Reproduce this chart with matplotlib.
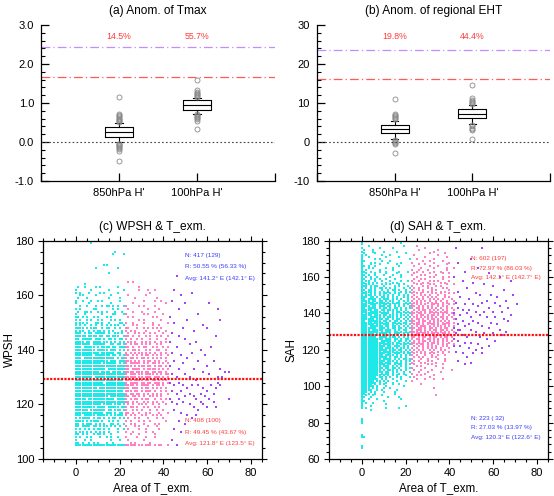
import matplotlib
matplotlib.use('Agg')
import matplotlib.pyplot as plt
from matplotlib.ticker import MultipleLocator, FormatStrFormatter

plt.rcParams['font.family'] = ['Liberation Sans', 'DejaVu Sans']

# ---------------- box plot data (top panels) ----------------
box_labels = ["850hPa H'", "100hPa H'"]

tmax_q1 = [0.12, 0.83]
tmax_med = [0.26, 0.94]
tmax_q3 = [0.39, 1.07]
tmax_lo = [-0.01, 0.73]
tmax_hi = [0.50, 1.14]
tmax_fliers = [
    [0.52, 0.54, 0.56, 0.58, 0.60, 0.63, 0.66, 0.69, 0.72, 1.15,
     -0.04, -0.06, -0.08, -0.10, -0.13, -0.16, -0.19, -0.22, -0.48],
    [1.16, 1.18, 1.20, 1.23, 1.26, 1.29, 1.33, 1.58,
     0.71, 0.69, 0.67, 0.64, 0.61, 0.58, 0.55, 0.33],
]
tmax_lines = [2.43, 1.67]      # purple, red thresholds
tmax_pct = ['14.5%', '55.7%']

eht_q1 = [2.2, 6.1]
eht_med = [3.4, 7.3]
eht_q3 = [4.4, 8.5]
eht_lo = [0.9, 4.6]
eht_hi = [5.5, 9.4]
eht_fliers = [
    [5.8, 6.1, 6.4, 6.7, 7.0, 7.3, 11.1,
     0.6, 0.3, 0.0, -0.3, -0.6, -2.8],
    [9.7, 10.0, 10.3, 10.6, 10.9, 11.3, 14.6,
     4.3, 4.0, 3.7, 3.4, 3.0, 0.7],
]
eht_lines = [23.5, 16.2]
eht_pct = ['19.8%', '44.4%']

# ---------------- scatter data (bottom panels) ----------------
# each row string: '#' = one point, char index = Area offset from the row start
WPSH_CYAN = {  # Area 0..22
    179: ".......#...............",
    176: "..................#....",
    175: ".................#....#",
    171: ".............##........",
    170: ".........#.........#...",
    168: "...............#.......",
    164: "....#..................",
    163: ".#..#....#.#.......#...",
    162: "#......#.......#......#",
    161: "#.#...#....#.#.....#...",
    160: "..##.....#......#......",
    159: ".#...#.........#....#..",
    158: "#..#...#..#.#.......#..",
    157: "#.....#.........#......",
    156: "..#..#...#..#.##.#.#..#",
    155: "#.#.....##.......#.#...",
    154: ".#..##.#..#.#.#...#..#.",
    153: "#...#.......#....##...#",
    152: "##.#.#..#.#...#.#......",
    151: "#.#..#.#..#.#...#.#.#..",
    150: "#.##.#...##.#..#....##.",
    149: "#.#.#..#.#..#.#.#.##..#",
    148: "####.#.###..#.##..#.#..",
    147: "#.##..#.#.##.#.#.#...#.",
    146: "###.#.##.#####.#..##.#.",
    145: "#####.####.##.##.###..#",
    144: "##.#####.###.#.##.#.##.",
    143: "####.##.####.##.#.#.#.#",
    142: "#######.######..##.##.#",
    141: "###.#####.#.####.##.###",
    140: "#########.#####.###.#.#",
    139: "###########.######.##..",
    138: "########.#######.##.#.#",
    137: "###.##############.#.##",
    136: "###############.###.###",
    135: "############.######.#.#",
    134: "#######################",
    133: "##############.########",
    132: "###########.####.####.#",
    131: "#######################",
    130: "########.##############",
    129: "######################.",
    128: "#############.#########",
    127: "#######################",
    126: "##########.############",
    125: "######################.",
    124: "#######################",
    123: "###############.#######",
    122: "#####.############.####",
    121: "#######################",
    120: "############.####.###.#",
    119: "#########.####.#####.##",
    118: "######.#######.##.###.#",
    117: "#############.###.#.##.",
    116: "###.#####.#####.#.####.",
    115: "#.#####.#.##.#.#.##.#.#",
    114: "####.#.####.#..#.#.#...",
    113: "##.#.###.#.#.#..##.#..#",
    112: "##.####.##.#.##.#.#.#..",
    111: "#.#.#.#.#.##.#.#...#..#",
    110: "#.##.#.#.#.#.#.#...#...",
    109: "##.#.#..#.##.#..#......",
    108: "#.#..#.#...#..#.#..#...",
    107: "#...#..#........#...#..",
    106: "##.#..#.#.#...#..#.....",
    105: "#######################",
}
WPSH_PINK = {  # Area 23..42
    165: ".#.#................",
    163: "......#.............",
    162: "......#...#..#......",
    161: "...........#........",
    160: ".#.......#..........",
    159: "....#.........#.....",
    158: "........#....#..#...",
    157: "...#..............#.",
    156: "#.....#.#....#......",
    155: ".#........#....#....",
    154: "...#...#.....#......",
    153: "#.......#.#......#..",
    152: ".#.#........#.#.....",
    151: "......#.#.......#...",
    150: "#..#....#...#......#",
    149: "...#.#......#..#....",
    148: "##...#..#.#.#.#.#...",
    147: "#.#.#....#.....#..#.",
    146: ".#..#.#.#..#.#...#..",
    145: "##.#..#..#.#..#.#..#",
    144: "#.#..#.#...#..#...#.",
    143: ".##.#..#.#.#.#..#.#.",
    142: "#.#.##.#.#.#..#.#...",
    141: "##.#..#.##..#.#..#.#",
    140: ".#.##.#..#.#..##..#.",
    139: "#.#.#.##.#.#.#..#.#.",
    138: "##.#.#.#.##.#.#.#..#",
    137: "#.##.#.##.#.#.#.#.#.",
    136: "###.#.#.#.##.#.#..#.",
    135: "#.#####.#.#.##.#.#.#",
    134: "###.#.###.##.#.##.#.",
    133: "##.####.#.####.#.#.#",
    132: "####.###.##.##.##.#.",
    131: "#.###.##.####.#.#.##",
    130: "#####.##.###.###.#.#",
    129: "###.####.##.##.#.##.",
    128: "#.####.##.##.###.#.#",
    127: "####.#.####.#.##.#..",
    126: "##.###.#.##.#.#.#.#.",
    125: "###.##.#.###.#..#.#.",
    124: "#.##.##.#.#.#.#.#..#",
    123: "##.##.#.#..##.#.#...",
    122: "#.#.##.#.##..#..#.#.",
    121: "##.#.#..#.#.#.#..#..",
    120: ".#.#..##.#..#..#..#.",
    119: "#.##.#..#.#..#.#....",
    118: "#..#.#.#...#..#..#..",
    117: "##.#..#..#.#...#...#",
    116: "#.#.#..#.#..#.#.#...",
    115: ".#..#.#...#...#..#..",
    114: "#.#...#.#..#......#.",
    113: "..#.#...#....#.#....",
    112: "#...#.#...#...#.....",
    111: ".#....#..#.....#....",
    110: "#..#.....#..#.......",
    109: "..#...#......#......",
    108: "#....#...#...#......",
    107: ".#......#...........",
    106: "..#.#......#........",
    105: "#####.##.###.#.##..#",
}
wpsh_violet_x = [46, 45, 48, 53, 44, 50, 61, 47, 56, 65, 43, 51, 66, 58, 60, 45, 49, 54, 64,
                 44, 47, 43, 50, 52, 46, 55, 57, 59, 62, 44, 48, 51, 53, 45, 49, 56, 60, 63,
                 43, 47, 54, 58, 61, 66, 68, 70, 44, 46, 50, 52, 55, 65, 67,
                 43, 45, 47, 49, 51, 53, 56, 58, 60, 62, 64, 44, 46, 48, 50, 52, 54, 57,
                 59, 61, 63, 65, 66, 43, 47, 55, 70,
                 44, 46, 49, 52, 54, 56, 58, 60, 64, 45, 48, 51, 55, 47, 50, 53, 45, 48,
                 44, 46, 57, 63]
wpsh_violet_y = [167, 162, 160, 161, 158, 157, 157, 155, 153, 155, 152, 151, 151, 149, 148, 150, 148, 147, 145,
                 146, 145, 143, 144, 142, 141, 143, 140, 138, 141, 139, 138, 137, 139, 136, 135, 136, 134, 136,
                 134, 133, 133, 132, 131, 133, 132, 132, 131, 130, 131, 130, 129, 130, 130,
                 128, 127, 128, 127, 126, 127, 127, 126, 125, 127, 126, 125, 124, 125, 123, 124, 123, 124,
                 123, 122, 124, 128, 127, 122, 122, 122, 122,
                 121, 120, 121, 120, 119, 118, 120, 119, 119, 118, 117, 116, 116, 114, 113, 115, 111, 110,
                 107, 105, 121, 121]
wpsh_line = 129.5

SAH_CYAN = {  # Area 0..22
    179: "#.................#....",
    178: "#......................",
    177: "...#...............#...",
    176: "#.......#.....#........",
    175: ".#...#.................",
    174: "#....#....#.....#......",
    173: ".#....#.............#..",
    172: "#.#......#...#.........",
    171: "#..#.......#.....#.....",
    170: "#.....#.#.............#",
    169: "##.......#...#.........",
    168: "#...#.#.....#.....#....",
    167: "#...#...#.......#......",
    166: "##.#..#..........#.....",
    165: "#..#.#.....#..#........",
    164: "#.#.....#.....#........",
    163: "##..#...#..#.....#...#.",
    162: "#.#...#....#....#......",
    161: "##.#..#...#...#...#....",
    160: "#.#.#..#.....#....#....",
    159: "##..#.#.#..#...#.......",
    158: "#.##..#..#...#....#..#.",
    157: "##.#.#.#...#..#.#......",
    156: "#.##.#...#.#.#...#.#...",
    155: "###.#.##..#....#.#...#.",
    154: "#.#.#.#.##.#.#.#...#..#",
    153: "##.##.#..#..#.##.#..#..",
    152: "#.###.#.#.#.#..#..#.#.#",
    151: "###.#.#.#.##.#.#.#..#..",
    150: "#.###.#.#.#.#.#..#.#.#.",
    149: "###.##.#.##.#.#.#..#.#.",
    148: "##.####.#.###.#.#.#..#.",
    147: "####.##.##.#.##..#.#.#.",
    146: "#.####.####.#.#.##..#.#",
    145: "###.###.#.##.#.#.#.#.#.",
    144: "####.##.###.##.#.#.#..#",
    143: "##.####.#.##.#.##.#.#.#",
    142: "#####.##.##.###.#.#.#..",
    141: "###.#####.#.#.#.##.#.#.",
    140: "#.######.####.#.#.#.#.#",
    139: "#####.###.##.##.#.##.#.",
    138: "###.#####.#.###.#.#.#.#",
    137: "######.###.##.#.##.#.#.",
    136: "##.######.##.#.##.#.#.#",
    135: "#####.####.##.##.#.##..",
    134: "######.##.###.#.#.#.#.#",
    133: "###.######.##.##.#.#.#.",
    132: "#######.###.#.##.##.#.#",
    131: "####.#####.###.#.#.##..",
    130: "########.#.###.##.#.#.#",
    129: "######.#####.#.###.#.#.",
    128: "#########.###.#.#.##.#.",
    127: "#######.####.###.#.#.#.",
    126: "##########.###.##.#.##.",
    125: "########.#####.#.##.#.#",
    124: "###########.###.##.#.#.",
    123: "#########.#####.#.###.#",
    122: "###########.##.###.#.#.",
    121: "##########.####.#.##.#.",
    120: "############.###.##.#.#",
    119: "#########.#####.#.##.#.",
    118: "###########.##.###.#.##",
    117: "##########.####.#.#.#.#",
    116: "############.#.##.#.#..",
    115: "#########.####.#.#.##.#",
    114: "###########.###.#.#.#.#",
    113: "##########.###.##.#.#..",
    112: "###########.##.#.##.#.#",
    111: "#########.###.#.#.#.#..",
    110: "##########.##.##.#..#.#",
    109: "#########.#.###.#.#.#..",
    108: "##########.##.#.#..#..#",
    107: "########.#.##.#..#.#...",
    106: "#########.#.#.#.#...#..",
    105: "#######.##.#.#..#.#...#",
    104: "########.#.#..#...#....",
    103: "######.##.#.#...#...#..",
    102: "#######.#..#..#........",
    101: "#####.#.#.#...#..#.....",
    100: "######.#...#.......#...",
    99: "####.#.#..#..#.........",
    98: "#####..#.#......#......",
    97: "###.#.#...#....#.......",
    96: "##.#..#........#.......",
    95: "#.#..#...#.............",
    94: "##..#.......#....#.....",
    93: "#..#...#..........#....",
    92: "##........#...........",
    91: "#.#..#.................",
    90: "#..........#...........",
    89: "#...#...............#..",
    88: "#.#........#.....#.....",
    87: "....#..................",
    82: "#......................",
    81: "#......................",
    80: "#......................",
    73: "#......................",
    72: "##.....................",
    67: "#......................",
    66: "#......................",
}
SAH_PINK = {  # Area 23..42
    177: "..#.................",
    176: "......#.............",
    175: "...#........#.......",
    174: "..........#.........",
    173: "........#......#....",
    172: ".#..........#.......",
    171: "......#.........#...",
    170: "..#.......#.........",
    169: ".....#..#.....#.....",
    168: "#.........#......#..",
    167: "...#..#.........#...",
    166: ".#......#...#.......",
    165: "....#.....#.....#..#",
    164: "#..#...#........#...",
    163: "..#..#....#..#......",
    162: ".#......#.....#..#..",
    161: "#...#.#....#........",
    160: "..#.....#.#...#..#..",
    159: ".#..#.#.......#.....",
    158: "#..#....#.#.#....#..",
    157: ".#...#.#.....#.#....",
    156: "..#.#...#.#.....#..#",
    155: "#....#.#...#.#......",
    154: ".#.#...#.#....#.#...",
    153: "#..#.#...#.#.....#..",
    152: ".#...#.#.#...#.#....",
    151: "#.#.#....#.#.#...#.#",
    150: ".#..#.#.#...#..#....",
    149: "#.#..#.#.#.#...#.#..",
    148: ".#.#.#..#.#.#.#...#.",
    147: "#.#.#.#.#..#.#..#..#",
    146: ".##.#..#.#.#..#.#...",
    145: "#.#.#.#..##.#.#..#.#",
    144: "##.#.#.#.#..#.#.#...",
    143: "#.##.#.#.#.#.#..#.#.",
    142: ".#.#.##.#.#.#.#.#..#",
    141: "#.#.#.#.##.#.#.##...",
    140: "##.##.#.#.#.#.#.#.#.",
    139: "#.#.##.#.##.#.#..#.#",
    138: ".##.#.##.#.#.##.#.#.",
    137: "#.##.#.#.##.#.#.#..#",
    136: "##.#.##.#.#.##.#.#..",
    135: "#.##.#.##.#.#.#.##.#",
    134: ".###.#.#.##.#.##.#..",
    133: "#.#.###.#.#.##.#.#.#",
    132: "##.##.#.##.#.#.##..#",
    131: "#.###.#.#.##.##.#.#.",
    130: "###.#.##.#.#.#.#.#.#",
    129: "#.##.###.##.#.##.#..",
    128: ".###.#.##.#.##.#.#.#",
    127: "##.#.##.#.##.#.##.#.",
    126: "#.##.#.##.#.#.#.#..#",
    125: ".#.#.##.#.#.#.#.#.#.",
    124: "##.#.#.#.##.#.#..#..",
    123: "#.#.##.#.#..#.#.#..#",
    122: ".#.#.#.#.#.#..#.#...",
    121: "#.#..#.#.#.#.#...#..",
    120: ".#.#.#..#.#..#.#....",
    119: "#.#.#.#..#..#.#..#..",
    118: ".#..#.#.#.#...#.....",
    117: "#.#...#..#..#..#....",
    116: ".#.#.#...#.#........",
    115: "#...#..#....#..#....",
    114: ".#.#...#.#.....#....",
    113: "#...#.#....#........",
    112: ".#.....#.#....#.....",
    111: "..#.#......#........",
    110: "#.....#.......#.....",
    109: ".#..#....#........#.",
    108: "...#...#.....#......",
    107: "#.....#.............",
    106: "..#.#.....#.........",
    105: ".#......#...........",
    104: "..#...#...#...#.....",
    103: "#...................",
    101: "....#...............",
    99: "..........#.........",
    95: "...........#........",
}
sah_violet_x = [43, 55, 50, 44, 53, 47, 58, 63, 68, 42, 46, 51, 56, 48, 60, 65, 44, 52, 54, 59,
                62, 69, 45, 49, 57, 61, 66, 71, 43, 47, 51, 53, 55, 58, 63, 67, 44, 46, 49,
                52, 56, 60, 64, 68, 42, 45, 48, 50, 54, 57, 61, 65, 67, 43, 46, 51, 53, 59,
                62, 44, 47, 49, 55, 58, 63, 66, 42, 45, 50, 52, 56, 60, 64, 43, 46, 48, 54,
                57, 61, 44, 47, 50, 53, 58, 45, 49, 52, 55, 43, 46, 51, 55, 48, 44, 50, 47,
                42, 42, 44]
sah_violet_y = [176, 176, 170, 168, 165, 163, 162, 160, 158, 160, 158, 157, 156, 154, 155, 153, 152, 151, 150, 150,
                149, 150, 149, 148, 147, 146, 147, 145, 146, 145, 145, 144, 146, 143, 144, 143, 143, 142, 142,
                141, 141, 141, 141, 139, 140, 139, 140, 138, 139, 138, 138, 137, 136, 137, 136, 136, 135, 135,
                134, 134, 133, 134, 133, 132, 131, 130, 132, 131, 131, 130, 129, 129, 128, 129, 128, 127, 127,
                126, 125, 125, 124, 124, 123, 122, 122, 121, 120, 121, 119, 118, 118, 118, 116, 114, 113, 112,
                126, 122, 131]
sah_line = 128.0


def rows_to_xy(rows, x0):
    xs, ys = [], []
    for y, row in rows.items():
        for j, ch in enumerate(row):
            if ch == '#':
                xs.append(x0 + j)
                ys.append(y)
    return xs, ys


CYAN = '#1FE8E8'
PINK = '#FF80C4'
VIOLET = '#A544FF'
TXT_RED = '#FF3B3B'
TXT_BLUE = '#3D3DFF'

fig = plt.figure(figsize=(5.54, 4.96), dpi=100)
ax_a = fig.add_axes([0.074, 0.635, 0.4224, 0.3145])
ax_b = fig.add_axes([0.5717, 0.635, 0.4216, 0.3145])
ax_c = fig.add_axes([0.0782, 0.0746, 0.3942, 0.4401])
ax_d = fig.add_axes([0.5944, 0.0746, 0.3942, 0.4401])


def box_panel(ax, title, q1, med, q3, lo, hi, fliers, lines, pct, ylim, ymaj, ymin, fmt, pct_y):
    stats = []
    for i in range(len(q1)):
        stats.append(dict(q1=q1[i], med=med[i], q3=q3[i], whislo=lo[i], whishi=hi[i],
                          fliers=fliers[i], label=box_labels[i]))
    ax.bxp(stats, positions=[1, 2], widths=0.36, capwidths=0.1,
           boxprops=dict(color='black', lw=0.8),
           medianprops=dict(color='black', lw=0.8),
           whiskerprops=dict(color='black', lw=0.8),
           capprops=dict(color='black', lw=0.8),
           flierprops=dict(marker='o', ms=3.6, mfc='none', mec='#8a8a8a', mew=0.6))
    ax.axhline(lines[0], color='#C58CFF', lw=0.9, ls=(0, (7, 2.5, 1, 2.5)))
    ax.axhline(lines[1], color='#FF5a5a', lw=0.9, ls=(0, (7, 2.5, 1, 2.5)))
    ax.axhline(0, color='#444444', lw=0.8, ls=(0, (1.5, 2)))
    for i, t in enumerate(pct):
        ax.text(i + 1, pct_y, t, color=TXT_RED, fontsize=6.3, ha='center', va='center')
    ax.set_xlim(0, 3)
    ax.set_ylim(*ylim)
    ax.set_xticks([0, 1, 2, 3])
    ax.set_xticklabels([''] + box_labels + [''])
    ax.yaxis.set_major_locator(MultipleLocator(ymaj))
    ax.yaxis.set_minor_locator(MultipleLocator(ymin))
    ax.yaxis.set_major_formatter(FormatStrFormatter(fmt))
    ax.spines['top'].set_visible(False)
    ax.spines['right'].set_visible(False)
    for s in ['left', 'bottom']:
        ax.spines[s].set_linewidth(0.9)
    ax.tick_params(which='major', direction='in', length=5.5, width=0.9, labelsize=8, pad=5)
    ax.tick_params(which='minor', direction='in', length=2.6, width=0.8)
    ax.tick_params(axis='x', which='minor', bottom=False)
    ax.set_title(title, fontsize=8.6, pad=8)


box_panel(ax_a, '(a) Anom. of Tmax', tmax_q1, tmax_med, tmax_q3, tmax_lo, tmax_hi,
          tmax_fliers, tmax_lines, tmax_pct, (-1, 3), 1, 0.2, '%.1f', 2.7)
box_panel(ax_b, '(b) Anom. of regional EHT', eht_q1, eht_med, eht_q3, eht_lo, eht_hi,
          eht_fliers, eht_lines, eht_pct, (-10, 30), 10, 2, '%d', 27)


def scatter_panel(ax, title, ylabel, cyan, pink, vx, vy, line, ylim, top_txt, bot_txt,
                  top_col, bot_col, top_y, bot_y, ylab_x):
    for rows, x0, col in [(cyan, 0, CYAN), (pink, 23, PINK)]:
        xs, ys = rows_to_xy(rows, x0)
        ax.plot(xs, ys, 's', ms=1.6, mew=0, color=col)
    ax.plot(vx, vy, 's', ms=1.6, mew=0, color=VIOLET)
    ax.axhline(line, color='#FF1010', lw=1.6, ls=(0, (1, 0.6)))
    for t, y in zip(top_txt, top_y):
        ax.text(50, y, t, color=top_col, fontsize=4.6, va='center', ha='left')
    for t, y in zip(bot_txt, bot_y):
        ax.text(50, y, t, color=bot_col, fontsize=4.6, va='center', ha='left')
    ax.set_xlim(-15, 85)
    ax.set_ylim(*ylim)
    ax.xaxis.set_major_locator(MultipleLocator(20))
    ax.xaxis.set_minor_locator(MultipleLocator(5))
    ax.yaxis.set_major_locator(MultipleLocator(20))
    ax.yaxis.set_minor_locator(MultipleLocator(4))
    for s in ax.spines.values():
        s.set_linewidth(0.9)
    ax.tick_params(which='both', direction='out', top=True, right=True, width=0.8)
    ax.tick_params(which='major', length=3.6, labelsize=8, pad=3)
    ax.tick_params(which='minor', length=2.0)
    ax.set_title(title, fontsize=8.6, pad=8)
    ax.set_ylabel(ylabel, fontsize=8.4, va='center')
    ax.yaxis.set_label_coords(ylab_x, 0.5)
    ax.set_xlabel('Area of T_exm.', fontsize=8.4, labelpad=3)


scatter_panel(ax_c, '(c) WPSH & T_exm.', 'WPSH', WPSH_CYAN, WPSH_PINK,
              wpsh_violet_x, wpsh_violet_y, wpsh_line, (100, 180),
              ['N: 417 (129)', 'R: 50.55 % (56.33 %)', 'Avg: 141.2° E (142.1° E)'],
              ['N: 408 (100)', 'R: 49.45 % (43.67 %)', 'Avg: 121.8° E (123.5° E)'],
              TXT_BLUE, TXT_RED, [174.5, 170.4, 166.2], [114.0, 109.8, 105.8], -0.155)
scatter_panel(ax_d, '(d) SAH & T_exm.', 'SAH', SAH_CYAN, SAH_PINK,
              sah_violet_x, sah_violet_y, sah_line, (60, 180),
              ['N: 602 (197)', 'R: 72.97 % (86.03 %)', 'Avg: 142.1° E (142.7° E)'],
              ['N: 223 ( 32)', 'R: 27.03 % (13.97 %)', 'Avg: 120.3° E (122.6° E)'],
              TXT_RED, TXT_BLUE, [170.1, 164.9, 159.8], [82.2, 77.2, 72.0], -0.175)

fig.savefig('out.png', dpi=100)
